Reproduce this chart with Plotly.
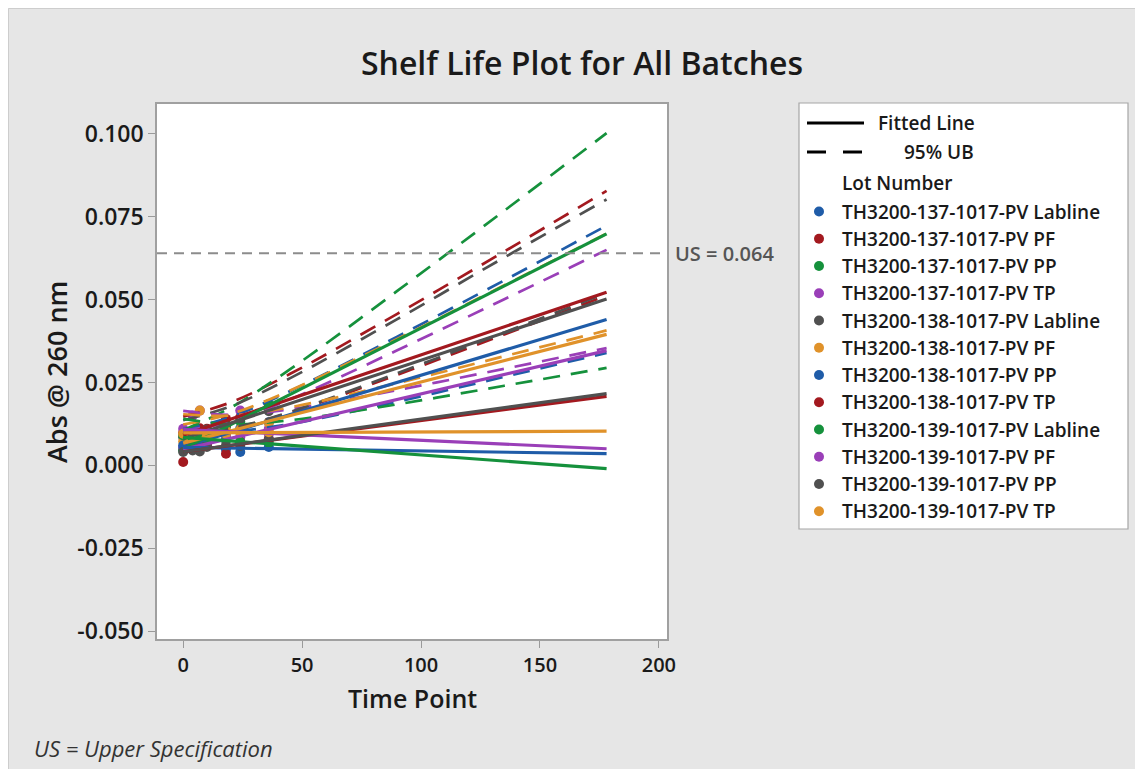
import plotly.graph_objects as go

# ---------------- data ----------------
lots = [
    "TH3200-137-1017-PV Labline",
    "TH3200-137-1017-PV PF",
    "TH3200-137-1017-PV PP",
    "TH3200-137-1017-PV TP",
    "TH3200-138-1017-PV Labline",
    "TH3200-138-1017-PV PF",
    "TH3200-138-1017-PV PP",
    "TH3200-138-1017-PV TP",
    "TH3200-139-1017-PV Labline",
    "TH3200-139-1017-PV PF",
    "TH3200-139-1017-PV PP",
    "TH3200-139-1017-PV TP",
]
colors = ["#1f5ca8", "#a3191f", "#15913c", "#9a3fb8", "#505050", "#e0922a",
          "#1f5ca8", "#a3191f", "#15913c", "#9a3fb8", "#505050", "#e0922a"]

# observed time points and measured absorbance per lot
times = [0, 4, 7, 10, 18, 24, 36]
obs_137_lab = [0.0050, 0.0072, 0.0065, 0.0085, 0.0090, 0.0112, 0.0130]
obs_137_pf = [0.0098, 0.0105, 0.0112, 0.0110, 0.0140, 0.0145, 0.0180]
obs_137_pp = [0.0045, 0.0070, 0.0080, 0.0082, 0.0120, 0.0132, 0.0185]
obs_137_tp = [0.0055, 0.0050, 0.0068, 0.0060, 0.0082, 0.0085, 0.0110]
obs_138_lab = [0.0085, 0.0092, 0.0095, 0.0108, 0.0118, 0.0140, 0.0163]
obs_138_pf = [0.0072, 0.0070, 0.0090, 0.0080, 0.0105, 0.0108, 0.0128]
obs_138_pp = [0.0060, 0.0050, 0.0055, 0.0058, 0.0048, 0.0040, 0.0055]
obs_138_tp = [0.0010, 0.0060, 0.0050, 0.0065, 0.0035, 0.0070, 0.0080]
obs_139_lab = [0.0090, 0.0080, 0.0085, 0.0078, 0.0075, 0.0070, 0.0068]
obs_139_pf = [0.0110, 0.0150, 0.0165, 0.0100, 0.0095, 0.0165, 0.0095]
obs_139_pp = [0.0040, 0.0045, 0.0042, 0.0055, 0.0060, 0.0058, 0.0078]
obs_139_tp = [0.0095, 0.0100, 0.0165, 0.0090, 0.0095, 0.0098, 0.0100]
observations = [obs_137_lab, obs_137_pf, obs_137_pp, obs_137_tp,
                obs_138_lab, obs_138_pf, obs_138_pp, obs_138_tp,
                obs_139_lab, obs_139_pf, obs_139_pp, obs_139_tp]

# fitted line: value at first and last time of the fit
fit_t = [0, 178]
fit_start = [0.0056, 0.0091, 0.0050, 0.0048, 0.0080, 0.0067,
             0.0054, 0.0041, 0.0084, 0.0108, 0.0041, 0.0098]
fit_end = [0.0440, 0.0522, 0.0698, 0.0346, 0.0502, 0.0395,
           0.0035, 0.0208, -0.0010, 0.0050, 0.0216, 0.0103]

# 95% upper bound read at these times
ub_t = [0, 20, 45, 90, 135, 178]
ub_values = [
    [0.0108, 0.0146, 0.0224, 0.0388, 0.0558, 0.0723],
    [0.0147, 0.0190, 0.0276, 0.0457, 0.0645, 0.0828],
    [0.0106, 0.0174, 0.0290, 0.0526, 0.0768, 0.1002],
    [0.0104, 0.0132, 0.0199, 0.0347, 0.0501, 0.0650],
    [0.0136, 0.0178, 0.0263, 0.0441, 0.0627, 0.0802],
    [0.0123, 0.0155, 0.0226, 0.0381, 0.0543, 0.0699],
    [0.0110, 0.0103, 0.0125, 0.0192, 0.0267, 0.0339],
    [0.0097, 0.0111, 0.0159, 0.0273, 0.0395, 0.0512],
    [0.0140, 0.0124, 0.0136, 0.0184, 0.0240, 0.0294],
    [0.0164, 0.0152, 0.0169, 0.0227, 0.0291, 0.0354],
    [0.0097, 0.0112, 0.0161, 0.0278, 0.0401, 0.0520],
    [0.0154, 0.0150, 0.0175, 0.0248, 0.0329, 0.0407],
]

us_value = 0.064
x_ticks = [0, 50, 100, 150, 200]
y_ticks = [-0.050, -0.025, 0.000, 0.025, 0.050, 0.075, 0.100]
y_tick_text = ["-0.050", "-0.025", "0.000", "0.025", "0.050", "0.075", "0.100"]

# ---------------- layout geometry ----------------
W, H = 1143, 769
OFF = 8                          # page offset of the figure (body margin)
L, R, T, B = 157, 667, 104, 639  # plot area in page pixels
PW, PH = R - L, B - T


def px(x):
    return (x - L) / PW


def py(y):
    return (B - y) / PH


FONT = "Open Sans"
TXT = "#1a1a1a"

fig = go.Figure()

# points
for lot, c, obs in zip(lots, colors, observations):
    fig.add_trace(go.Scatter(x=times, y=obs, mode="markers",
                             marker=dict(color=c, size=10, line=dict(width=0)),
                             name=lot, showlegend=False, hoverinfo="skip"))
# 95% UB
for lot, c, ub in zip(lots, colors, ub_values):
    fig.add_trace(go.Scatter(x=ub_t, y=ub, mode="lines", line_shape="spline",
                             line=dict(color=c, width=2.7, dash="17px,11px"),
                             showlegend=False, hoverinfo="skip"))
# fitted lines
for lot, c, s, e in zip(lots, colors, fit_start, fit_end):
    fig.add_trace(go.Scatter(x=fit_t, y=[s, e], mode="lines",
                             line=dict(color=c, width=3.2),
                             showlegend=False, hoverinfo="skip"))

shapes = []
# panel border
shapes.append(dict(type="rect", xref="paper", yref="paper",
                   x0=px(OFF + 0.5), x1=px(OFF + W - 0.5), y0=py(OFF + H - 0.5), y1=py(OFF + 0.5),
                   fillcolor="rgba(0,0,0,0)", line=dict(color="#cdcdcd", width=1), layer="below"))

# upper specification line
shapes.append(dict(type="line", xref="paper", yref="y", x0=0, x1=1,
                   y0=us_value, y1=us_value,
                   line=dict(color="#8c8c8c", width=2, dash="10px,7px")))

# legend box
LX0, LX1, LY0, LY1 = 799, 1128, 103, 529
shapes.append(dict(type="rect", xref="paper", yref="paper",
                   x0=px(LX0), x1=px(LX1), y0=py(LY1), y1=py(LY0),
                   fillcolor="white", line=dict(color="#a6a6a6", width=1.2)))
# legend line samples
shapes.append(dict(type="line", xref="paper", yref="paper",
                   x0=px(807), x1=px(864), y0=py(123), y1=py(123),
                   line=dict(color="black", width=3)))
shapes.append(dict(type="line", xref="paper", yref="paper",
                   x0=px(807), x1=px(826), y0=py(152), y1=py(152),
                   line=dict(color="black", width=3)))
shapes.append(dict(type="line", xref="paper", yref="paper",
                   x0=px(843), x1=px(862), y0=py(152), y1=py(152),
                   line=dict(color="black", width=3)))

annotations = []
LEG_FONT = dict(family=FONT, size=19, color=TXT, weight=600)
annotations.append(dict(text="Fitted Line", x=px(876), y=py(123), xref="paper", yref="paper",
                        xanchor="left", yanchor="middle", showarrow=False, font=LEG_FONT))
annotations.append(dict(text="95% UB", x=px(902), y=py(152), xref="paper", yref="paper",
                        xanchor="left", yanchor="middle", showarrow=False, font=LEG_FONT))
annotations.append(dict(text="Lot Number", x=px(840), y=py(183), xref="paper", yref="paper",
                        xanchor="left", yanchor="middle", showarrow=False, font=LEG_FONT))
row_y0, row_dy = 211.5, 27.25
for i, (lot, c) in enumerate(zip(lots, colors)):
    yy = row_y0 + i * row_dy
    shapes.append(dict(type="circle", xref="paper", yref="paper",
                       xsizemode="pixel", ysizemode="pixel",
                       xanchor=px(819), yanchor=py(yy),
                       x0=-5, x1=5, y0=-5, y1=5,
                       fillcolor=c, line=dict(width=0)))
    annotations.append(dict(text=lot, x=px(840), y=py(yy), xref="paper", yref="paper",
                            xanchor="left", yanchor="middle", showarrow=False, font=LEG_FONT))

# title, axis titles, notes
annotations.append(dict(text="Shelf Life Plot for All Batches", x=px(582), y=py(63),
                        xref="paper", yref="paper", xanchor="center", yanchor="middle",
                        showarrow=False, font=dict(family=FONT, size=32, color=TXT, weight=600)))
annotations.append(dict(text="Abs @ 260 nm", x=px(56), y=py(372), textangle=-90,
                        xref="paper", yref="paper", xanchor="center", yanchor="middle",
                        showarrow=False, font=dict(family=FONT, size=27, color=TXT, weight=600)))
annotations.append(dict(text="Time Point", x=px(412), y=py(698),
                        xref="paper", yref="paper", xanchor="center", yanchor="middle",
                        showarrow=False, font=dict(family=FONT, size=25, color=TXT, weight=600)))
annotations.append(dict(text="US = Upper Specification", x=px(32), y=py(748),
                        xref="paper", yref="paper", xanchor="left", yanchor="middle",
                        showarrow=False, font=dict(family=FONT, size=22, color="#333333", style="italic")))
annotations.append(dict(text=f"US = {us_value:.3f}", x=px(673), y=us_value,
                        xref="paper", yref="y", xanchor="left", yanchor="middle",
                        showarrow=False, font=dict(family=FONT, size=20, color="#555555", weight=600)))

fig.update_layout(
    width=W, height=H,
    margin=dict(l=L - OFF, r=W - (R - OFF), t=T - OFF, b=H - (B - OFF), autoexpand=False),
    paper_bgcolor="#e6e6e6", plot_bgcolor="white",
    shapes=shapes, annotations=annotations, showlegend=False,
    font=dict(family=FONT, color=TXT),
)
fig.update_xaxes(range=[-11, 203.4], tickvals=x_ticks, ticks="outside", ticklen=7,
                 tickcolor="#9a9a9a", tickwidth=1.2, showgrid=False, zeroline=False,
                 showline=True, mirror=True, linecolor="#a0a0a0", linewidth=1.5,
                 tickfont=dict(family=FONT, size=20, color=TXT, weight=600))
fig.update_yaxes(range=[-0.0524, 0.1090], tickvals=y_ticks, ticktext=y_tick_text,
                 ticks="outside", ticklen=7, tickcolor="#9a9a9a", tickwidth=1.2,
                 showgrid=False, zeroline=False, showline=True, mirror=True,
                 linecolor="#a0a0a0", linewidth=1.5,
                 tickfont=dict(family=FONT, size=23, color=TXT, weight=600))

fig.write_html("out.html")
